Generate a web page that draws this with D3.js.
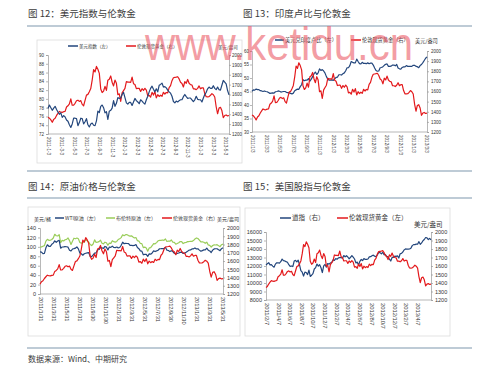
<!DOCTYPE html>
<html>
<head>
<meta charset="utf-8">
<script src="https://cdn.jsdelivr.net/npm/d3@7"></script>
<style>
  body { margin: 0; background: #fff; }
  svg { display: block; }
</style>
</head>
<body>
<div id="chart"></div>
<script>
const W = 499, H = 372;

// weekly dates (Fridays), Jan 2011 - mid Jun 2013
const dates = d3.timeFriday.range(new Date(2011, 0, 7), new Date(2013, 5, 15));

// London spot gold, USD/oz
const gold = [
  1369, 1360, 1343, 1319, 1348, 1360, 1388, 1409, 1428, 1421, 1419, 1426,
  1429, 1474, 1486, 1504, 1556, 1491, 1493, 1511, 1536, 1542, 1530, 1538, 1500,
  1486, 1541, 1594, 1601, 1628, 1660, 1745, 1852, 1828, 1884, 1856, 1814, 1656, 1620,
  1635, 1682, 1642, 1745, 1755, 1788, 1724, 1687, 1746, 1713, 1598, 1607, 1531,
  1616, 1639, 1662, 1730, 1725, 1725, 1723, 1776, 1710, 1701, 1659, 1662, 1662,
  1631, 1659, 1642, 1663, 1645, 1586, 1592, 1573, 1622, 1594, 1628, 1566, 1598,
  1580, 1593, 1582, 1622, 1605, 1620, 1616, 1670, 1690, 1740, 1770, 1773, 1776,
  1780, 1758, 1724, 1712, 1676, 1731, 1714, 1752, 1714, 1700, 1696, 1657, 1657,
  1649, 1662, 1687, 1658, 1667, 1667, 1609, 1577, 1576, 1578, 1592, 1609, 1598,
  1575, 1476, 1405, 1462, 1470, 1437, 1365, 1387, 1393, 1383, 1387
];

// US dollar index
const usdIndex = [
  77.8, 78.6, 78.0, 77.4, 77.9, 78.3, 77.6, 77.0, 76.5, 76.8, 75.8, 76.2,
  75.9, 75.2, 74.9, 74.1, 73.5, 74.3, 75.6, 75.6, 75.5, 73.9, 74.6, 75.6, 75.5,
  74.3, 74.8, 75.5, 74.1, 73.6, 74.3, 74.5, 74.0, 73.9, 75.0, 77.2, 76.9, 78.3, 78.6,
  78.0, 76.8, 77.1, 75.3, 77.2, 77.4, 77.9, 79.6, 78.3, 79.0, 80.3, 80.1, 80.2,
  81.0, 81.5, 80.3, 79.1, 78.8, 79.2, 79.2, 78.5, 79.3, 80.1, 79.6, 79.3, 78.9,
  79.8, 79.5, 79.1, 78.8, 79.8, 80.6, 81.6, 82.4, 82.9, 82.2, 81.6, 82.3, 81.6,
  83.1, 83.3, 83.6, 82.7, 82.8, 82.5, 82.0, 81.6, 81.3, 80.6, 79.4, 79.1, 79.5,
  79.3, 79.6, 79.8, 79.8, 80.5, 81.0, 80.5, 80.1, 80.2, 80.2, 79.8, 79.4, 79.8,
  80.6, 79.9, 79.8, 79.8, 79.3, 80.2, 81.0, 81.5, 82.3, 82.7, 82.4, 82.4, 83.0,
  82.4, 82.1, 82.7, 82.1, 82.0, 83.1, 84.2, 83.8, 83.4, 81.9, 80.9
];

// USD/INR
const usdInr = [
  45.1, 45.6, 45.5, 45.9, 45.7, 45.7, 45.3, 45.2, 45.0, 45.2, 45.0, 44.9,
  44.6, 44.3, 44.4, 44.5, 44.4, 44.9, 45.0, 45.2, 45.1, 44.8, 44.9, 45.0, 45.0,
  44.7, 44.6, 44.5, 44.3, 44.1, 44.4, 45.3, 45.6, 45.9, 45.8, 46.8, 47.5, 49.4, 49.0,
  49.2, 49.2, 49.8, 48.8, 49.6, 50.5, 51.6, 52.2, 51.3, 51.9, 53.4, 52.8, 53.1,
  52.6, 51.8, 50.5, 49.6, 49.2, 49.2, 49.3, 49.1, 49.7, 50.2, 50.3, 51.2, 51.2,
  51.1, 51.6, 51.9, 52.7, 53.8, 53.8, 54.6, 56.1, 55.8, 55.6, 55.6, 57.0, 56.1,
  55.3, 55.2, 55.8, 55.4, 55.4, 55.3, 55.6, 55.3, 55.5, 55.5, 54.8, 53.7, 52.8,
  52.5, 52.6, 53.8, 53.9, 54.2, 54.7, 55.1, 55.2, 54.3, 54.3, 54.4, 54.8, 54.8,
  54.5, 55.0, 53.7, 53.4, 53.3, 53.9, 54.1, 54.1, 54.6, 54.3, 54.3, 54.3, 54.3,
  54.7, 54.7, 54.3, 54.2, 53.8, 54.6, 55.0, 55.7, 56.5, 57.3, 57.8
];

// WTI crude, USD/bbl
const wti = [
  88.0, 91.5, 89.1, 89.3, 89.0, 85.6, 86.2, 97.9, 104.4, 101.2, 101.1, 105.4,
  107.9, 112.8, 109.7, 112.3, 113.9, 97.2, 99.7, 100.1, 100.6, 100.2, 99.3, 93.0, 91.2,
  95.4, 96.2, 97.2, 99.9, 95.7, 86.9, 85.4, 82.3, 85.4, 86.5, 87.2, 87.9, 79.9, 79.2,
  82.9, 86.8, 87.4, 93.3, 94.3, 98.9, 97.7, 96.8, 100.9, 99.4, 93.5, 99.7, 98.8,
  101.6, 98.7, 98.5, 99.6, 97.8, 98.7, 103.2, 109.8, 106.7, 107.4, 107.1, 106.9, 103.0,
  103.3, 102.8, 103.1, 104.9, 98.5, 96.1, 91.5, 90.9, 83.2, 84.1, 84.0, 79.8, 85.0,
  84.5, 87.1, 91.4, 90.1, 91.4, 92.9, 96.0, 96.2, 96.5, 96.4, 99.0, 92.9, 92.2,
  89.9, 91.9, 90.1, 86.3, 84.9, 86.1, 86.9, 88.3, 88.9, 85.9, 86.7, 88.7, 90.8,
  93.1, 93.6, 95.6, 95.9, 97.8, 95.7, 95.9, 93.1, 90.7, 92.1, 93.5, 93.7, 97.2,
  93.0, 91.3, 88.0, 93.0, 95.6, 96.0, 96.0, 93.8, 92.0, 96.0, 97.9
];

// Brent crude, USD/bbl
const brent = [
  95.7, 98.4, 97.4, 99.4, 99.9, 101.4, 102.5, 112.1, 116.0, 113.8, 114.0, 115.6,
  118.7, 126.7, 123.5, 123.0, 125.9, 109.1, 113.8, 112.4, 115.1, 115.8, 118.8, 113.2, 105.1,
  111.9, 118.3, 117.2, 118.7, 117.0, 109.4, 108.0, 108.6, 111.4, 114.8, 112.8, 109.9, 105.0, 102.8,
  106.0, 114.8, 109.6, 109.9, 111.0, 114.2, 107.6, 106.4, 109.9, 108.6, 103.4, 107.9, 107.4,
  113.1, 111.0, 110.0, 111.5, 115.6, 117.3, 119.6, 125.5, 123.7, 125.9, 125.8, 123.9, 122.9,
  123.4, 121.0, 118.8, 119.8, 113.2, 112.3, 107.1, 106.8, 98.4, 99.5, 97.6, 90.9, 97.8,
  98.2, 102.4, 107.0, 106.5, 109.0, 112.9, 113.7, 113.6, 114.6, 113.9, 116.7, 111.4, 112.4,
  112.0, 114.6, 110.1, 109.6, 105.7, 107.3, 108.9, 111.4, 111.2, 107.0, 108.8, 109.3, 111.1,
  111.3, 111.9, 111.7, 113.3, 116.8, 118.9, 117.7, 114.4, 110.4, 110.9, 109.8, 107.6, 110.0,
  104.1, 103.1, 99.7, 102.9, 104.2, 103.9, 104.6, 102.6, 100.4, 104.6, 105.9
];

// Dow Jones Industrial Average
const dow = [
  11675, 11787, 11872, 11824, 12092, 12273, 12391, 12130, 12170, 11984, 11859, 12221,
  12377, 12380, 12342, 12505, 12811, 12638, 12596, 12512, 12441, 12151, 11952, 12004, 11934,
  12582, 12657, 12479, 12681, 12143, 11445, 11269, 10818, 11285, 11240, 10993, 11509, 10771, 10913,
  11103, 11644, 11808, 12231, 11983, 12153, 11796, 11231, 12019, 12184, 11867, 12294, 12218,
  12360, 12422, 12720, 12660, 12862, 12801, 12950, 12983, 12978, 12922, 13233, 13081, 13212,
  13060, 12850, 13029, 13228, 13038, 12821, 12369, 12454, 12119, 12554, 12767, 12640, 12880,
  12772, 12777, 12822, 13075, 13096, 13207, 13275, 13158, 13090, 13306, 13593, 13579, 13437,
  13610, 13328, 13344, 13107, 13093, 12815, 12588, 13010, 13025, 13155, 13135, 13190, 12938,
  13435, 13488, 13649, 13896, 14009, 13993, 13981, 14000, 14090, 14397, 14514, 14512, 14579,
  14565, 14865, 14547, 14712, 14974, 15118, 15354, 15303, 15116, 15248, 15070
];

// axis tick labels
const ticks12 = ["2011-1-3", "2011-3-3", "2011-5-3", "2011-7-3", "2011-9-3", "2011-11-3",
  "2012-1-3", "2012-3-3", "2012-5-3", "2012-7-3", "2012-9-3", "2012-11-3", "2013-1-3", "2013-3-3", "2013-5-3"];
const ticks13 = ["2011/1/3", "2011/3/3", "2011/5/3", "2011/7/3", "2011/9/3", "2011/11/3",
  "2012/1/3", "2012/3/3", "2012/5/3", "2012/7/3", "2012/9/3", "2012/11/3", "2013/1/3", "2013/3/3"];
const ticks14 = ["2011/1/31", "2011/3/31", "2011/5/31", "2011/7/31", "2011/9/30", "2011/11/30",
  "2012/1/31", "2012/3/31", "2012/5/31", "2012/7/31", "2012/9/30", "2012/11/30", "2013/1/31", "2013/3/31", "2013/5/31"];
const ticks15 = ["2011/2/7", "2011/4/7", "2011/6/7", "2011/8/7", "2011/10/7", "2011/12/7",
  "2012/2/7", "2012/4/7", "2012/6/7", "2012/8/7", "2012/10/7", "2012/12/7", "2013/2/7", "2013/4/7"];

const BLUE = "#23467c", RED = "#e3191c", GREEN = "#9acd5a";
const CJK = "'Noto Sans CJK SC', sans-serif";
const NUM = "'Liberation Sans', Arial, sans-serif";

const svg = d3.select("#chart").append("svg")
    .attr("width", W)
    .attr("height", H);

svg.append("rect").attr("width", W).attr("height", H).attr("fill", "#fff");

// section titles and rules
const titles = [
  { t: "图 12：美元指数与伦敦金", x: 28, y: 17 },
  { t: "图 13：印度卢比与伦敦金", x: 243, y: 17 },
  { t: "图 14：原油价格与伦敦金", x: 28, y: 190 },
  { t: "图 15：美国股指与伦敦金", x: 243, y: 190 }
];
svg.selectAll("text.title")
    .data(titles)
    .enter().append("text")
    .attr("x", d => d.x)
    .attr("y", d => d.y)
    .attr("font-family", CJK)
    .attr("font-size", 9.5)
    .attr("fill", "#3c3c3c")
    .text(d => d.t);

[26, 171, 198, 348].forEach(y => {
    svg.append("line")
        .attr("x1", 27).attr("x2", 472)
        .attr("y1", y).attr("y2", y)
        .attr("stroke", "#a8bac9")
        .attr("stroke-width", 1.5);
});

svg.append("text")
    .attr("x", 28).attr("y", 362)
    .attr("font-family", CJK)
    .attr("font-size", 8)
    .attr("fill", "#3c3c3c")
    .text("数据来源：Wind、中期研究");

// chart frames
[[37, 40, 205, 123], [28, 207, 212, 129], [245, 208, 205, 128]].forEach(r => {
    svg.append("rect")
        .attr("x", r[0]).attr("y", r[1])
        .attr("width", r[2]).attr("height", r[3])
        .attr("fill", "none")
        .attr("stroke", "#dcdcdc")
        .attr("stroke-width", 0.8);
});

function panel(cfg) {
    const g = svg.append("g");
    const x = d3.scaleTime()
        .domain([cfg.start || dates[0], dates[dates.length - 1]])
        .range([cfg.x0, cfg.x1]);
    const yL = d3.scaleLinear().domain(cfg.leftDomain).range([cfg.y1, cfg.y0]);
    const yR = d3.scaleLinear().domain([1200, 2000]).range([cfg.y1, cfg.y0]);

    const axisL = g.append("g")
        .attr("transform", `translate(${cfg.x0},0)`)
        .call(d3.axisLeft(yL).tickValues(d3.range(cfg.leftDomain[0], cfg.leftDomain[1] + 1e-9, cfg.leftStep))
            .tickSize(2).tickPadding(cfg.padL).tickFormat(d3.format("d")));
    const axisR = g.append("g")
        .attr("transform", `translate(${cfg.x1},0)`)
        .call(d3.axisRight(yR).tickValues(d3.range(1200, 2001, 100))
            .tickSize(2).tickPadding(cfg.padR).tickFormat(d3.format("d")));
    [axisL, axisR].forEach(a => {
        a.select(".domain").attr("stroke", "#999").attr("stroke-width", 0.7);
        a.selectAll(".tick line").attr("stroke", "#999").attr("stroke-width", 0.7);
        a.selectAll("text")
            .attr("font-family", NUM)
            .attr("font-size", cfg.fs)
            .attr("fill", "#333");
    });

    g.append("line")
        .attr("x1", cfg.x0).attr("x2", cfg.x1)
        .attr("y1", cfg.y1).attr("y2", cfg.y1)
        .attr("stroke", "#999").attr("stroke-width", 0.7);

    const xl = d3.scalePoint().domain(cfg.labels).range([cfg.x0 + 1, cfg.labEnd]);
    g.selectAll("text.xl")
        .data(cfg.labels)
        .enter().append("text")
        .attr("transform", d => `translate(${xl(d)},${cfg.y1 + 3}) rotate(90)`)
        .attr("dy", "0.35em")
        .attr("font-family", NUM)
        .attr("font-size", cfg.xfs)
        .attr("fill", "#333")
        .text(d => d);

    cfg.series.forEach(s => {
        const y = s.axis === "left" ? yL : yR;
        const pts = dates.map((d, i) => [d, s.values[i]])
            .filter(p => p[0] >= x.domain()[0]);
        g.append("path")
            .datum(pts)
            .attr("fill", "none")
            .attr("stroke", s.color)
            .attr("stroke-width", 1.2)
            .attr("stroke-linejoin", "round")
            .attr("d", d3.line().x(p => x(p[0])).y(p => y(p[1])));
    });

    cfg.legend.forEach(l => {
        g.append("line")
            .attr("x1", l.x).attr("x2", l.x + l.len)
            .attr("y1", cfg.ly).attr("y2", cfg.ly)
            .attr("stroke", l.color).attr("stroke-width", 1.5);
        g.append("text")
            .attr("x", l.x + l.len + 1).attr("y", cfg.ly)
            .attr("dy", "0.35em")
            .attr("font-family", CJK)
            .attr("font-size", cfg.lfs)
            .attr("fill", "#333")
            .text(l.text);
    });
    cfg.units.forEach(u => {
        g.append("text")
            .attr("x", u.x).attr("y", u.y)
            .attr("dy", "0.35em")
            .attr("font-family", CJK)
            .attr("font-size", cfg.lfs)
            .attr("fill", "#333")
            .text(u.text);
    });
}

panel({
    x0: 48, x1: 229, y0: 55, y1: 134, labEnd: 226, padL: 2, padR: 1,
    leftDomain: [72, 90], leftStep: 2, fs: 4.5, xfs: 4.6, lfs: 4.5, ly: 46,
    labels: ticks12,
    series: [
        { values: gold, axis: "right", color: RED },
        { values: usdIndex, axis: "left", color: BLUE }
    ],
    legend: [
        { x: 68, len: 10, color: BLUE, text: "美元指数（左）" },
        { x: 126, len: 10, color: RED, text: "伦敦现货黄金（右）" }
    ],
    units: [{ x: 218, y: 47, text: "美元/盎司" }]
});

panel({
    x0: 252, x1: 427, y0: 51, y1: 132, labEnd: 427, padL: 1, padR: 2,
    leftDomain: [30, 60], leftStep: 5, fs: 4.5, xfs: 4.6, lfs: 5.2, ly: 40,
    labels: ticks13,
    series: [
        { values: usdInr, axis: "left", color: BLUE },
        { values: gold, axis: "right", color: RED }
    ],
    legend: [
        { x: 275, len: 9, color: BLUE, text: "美元兑印度卢比（左）" },
        { x: 351, len: 10, color: RED, text: "伦敦现货黄金（右）" }
    ],
    units: [{ x: 415, y: 41, text: "美元/盎司" }]
});

panel({
    x0: 40, x1: 223, y0: 228, y1: 294, labEnd: 223, padL: 2, padR: 2,
    start: new Date(2011, 0, 28),
    leftDomain: [0, 140], leftStep: 20, fs: 5.5, xfs: 5.6, lfs: 5, ly: 218,
    labels: ticks14,
    series: [
        { values: brent, axis: "left", color: GREEN },
        { values: wti, axis: "left", color: BLUE },
        { values: gold, axis: "right", color: RED }
    ],
    legend: [
        { x: 55, len: 9, color: BLUE, text: "WTI原油（左）" },
        { x: 106, len: 9, color: GREEN, text: "布伦特原油（左）" },
        { x: 162, len: 10, color: RED, text: "伦敦现货黄金（右）" }
    ],
    units: [
        { x: 34, y: 219, text: "美元/桶" },
        { x: 217, y: 219, text: "美元/盎司" }
    ]
});

panel({
    x0: 266, x1: 431, y0: 232, y1: 300, labEnd: 418, padL: 2, padR: 2,
    start: new Date(2011, 1, 4),
    leftDomain: [8000, 16000], leftStep: 1000, fs: 5.5, xfs: 5.8, lfs: 6.5, ly: 218,
    labels: ticks15,
    series: [
        { values: dow, axis: "left", color: BLUE },
        { values: gold, axis: "right", color: RED }
    ],
    legend: [
        { x: 280, len: 11, color: BLUE, text: "道指（右）" },
        { x: 337, len: 11, color: RED, text: "伦敦现货黄金（左）" }
    ],
    units: [{ x: 414, y: 225, text: "美元/盎司" }]
});

// watermark
svg.append("text")
    .attr("x", 145).attr("y", 60)
    .attr("font-family", "'Liberation Sans', Arial, sans-serif")
    .attr("font-size", 46)
    .attr("textLength", 268)
    .attr("lengthAdjust", "spacingAndGlyphs")
    .attr("fill", "#ec5a66")
    .attr("fill-opacity", 0.6)
    .text("www.ketidu.cn");
</script>
</body>
</html>
